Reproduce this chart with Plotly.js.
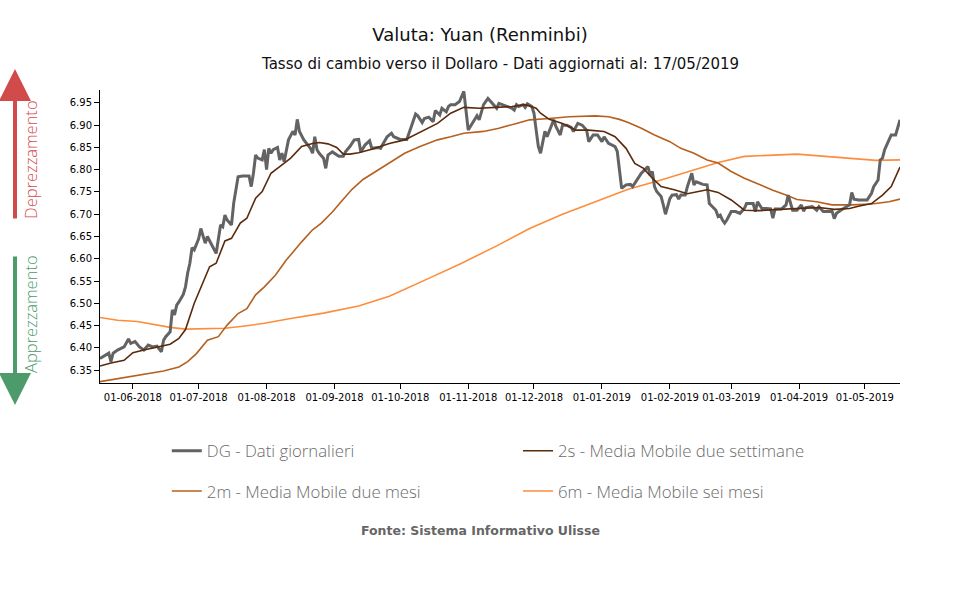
<!DOCTYPE html>
<html>
<head>
<meta charset="utf-8">
<script src="https://cdn.plot.ly/plotly-3.0.1.min.js"></script>
<style>html,body{margin:0;padding:0;background:#fff;}#chart{width:960px;height:600px;}</style>
</head>
<body>
<div id="chart"></div>
<script>
// Daily data (DG)
const dgDates = ["2018-05-17","2018-05-21","2018-05-22","2018-05-23","2018-05-25","2018-05-28","2018-05-30","2018-05-31","2018-06-02","2018-06-04","2018-06-06","2018-06-08","2018-06-10","2018-06-12","2018-06-14","2018-06-15","2018-06-16","2018-06-18","2018-06-19","2018-06-20","2018-06-21","2018-06-22","2018-06-24","2018-06-25","2018-06-26","2018-06-27","2018-06-28","2018-06-29","2018-07-01","2018-07-02","2018-07-04","2018-07-05","2018-07-07","2018-07-09","2018-07-11","2018-07-12","2018-07-13","2018-07-14","2018-07-16","2018-07-17","2018-07-19","2018-07-21","2018-07-24","2018-07-25","2018-07-26","2018-07-27","2018-07-28","2018-07-30","2018-07-31","2018-08-01","2018-08-02","2018-08-03","2018-08-04","2018-08-06","2018-08-07","2018-08-08","2018-08-09","2018-08-10","2018-08-11","2018-08-13","2018-08-14","2018-08-15","2018-08-16","2018-08-18","2018-08-21","2018-08-22","2018-08-23","2018-08-24","2018-08-25","2018-08-27","2018-08-28","2018-08-29","2018-08-31","2018-09-03","2018-09-05","2018-09-06","2018-09-08","2018-09-10","2018-09-12","2018-09-13","2018-09-15","2018-09-17","2018-09-18","2018-09-21","2018-09-22","2018-09-25","2018-09-27","2018-09-28","2018-10-01","2018-10-04","2018-10-06","2018-10-08","2018-10-09","2018-10-11","2018-10-12","2018-10-14","2018-10-16","2018-10-17","2018-10-19","2018-10-20","2018-10-22","2018-10-23","2018-10-24","2018-10-26","2018-10-28","2018-10-30","2018-11-01","2018-11-03","2018-11-05","2018-11-06","2018-11-08","2018-11-10","2018-11-12","2018-11-14","2018-11-15","2018-11-18","2018-11-21","2018-11-22","2018-11-23","2018-11-24","2018-11-26","2018-11-27","2018-11-28","2018-11-30","2018-12-01","2018-12-02","2018-12-03","2018-12-04","2018-12-06","2018-12-07","2018-12-10","2018-12-11","2018-12-13","2018-12-14","2018-12-16","2018-12-18","2018-12-19","2018-12-21","2018-12-23","2018-12-25","2018-12-26","2018-12-28","2018-12-30","2019-01-01","2019-01-02","2019-01-04","2019-01-07","2019-01-08","2019-01-10","2019-01-12","2019-01-14","2019-01-15","2019-01-17","2019-01-19","2019-01-22","2019-01-23","2019-01-24","2019-01-25","2019-01-26","2019-01-28","2019-01-29","2019-01-30","2019-02-01","2019-02-02","2019-02-04","2019-02-05","2019-02-06","2019-02-08","2019-02-09","2019-02-11","2019-02-12","2019-02-13","2019-02-14","2019-02-16","2019-02-18","2019-02-19","2019-02-20","2019-02-22","2019-02-23","2019-02-24","2019-02-25","2019-02-26","2019-02-27","2019-02-28","2019-03-01","2019-03-03","2019-03-05","2019-03-07","2019-03-08","2019-03-11","2019-03-12","2019-03-13","2019-03-15","2019-03-17","2019-03-19","2019-03-20","2019-03-21","2019-03-24","2019-03-26","2019-03-27","2019-03-29","2019-03-31","2019-04-02","2019-04-03","2019-04-04","2019-04-07","2019-04-09","2019-04-10","2019-04-12","2019-04-15","2019-04-16","2019-04-17","2019-04-18","2019-04-20","2019-04-22","2019-04-24","2019-04-25","2019-04-26","2019-04-28","2019-05-02","2019-05-04","2019-05-05","2019-05-07","2019-05-08","2019-05-09","2019-05-10","2019-05-12","2019-05-13","2019-05-15","2019-05-17"];
const dgValues = [6.376,6.388,6.369,6.388,6.395,6.402,6.420,6.410,6.414,6.402,6.395,6.406,6.402,6.404,6.391,6.417,6.425,6.436,6.485,6.474,6.496,6.503,6.520,6.537,6.568,6.590,6.625,6.620,6.645,6.668,6.635,6.650,6.631,6.612,6.676,6.672,6.698,6.687,6.676,6.725,6.784,6.786,6.786,6.762,6.792,6.833,6.826,6.822,6.845,6.800,6.848,6.837,6.845,6.850,6.822,6.837,6.818,6.840,6.867,6.886,6.878,6.913,6.886,6.867,6.848,6.837,6.874,6.845,6.837,6.826,6.803,6.833,6.840,6.830,6.830,6.840,6.852,6.867,6.868,6.840,6.856,6.865,6.848,6.850,6.848,6.874,6.882,6.874,6.868,6.868,6.897,6.925,6.921,6.906,6.915,6.918,6.908,6.933,6.923,6.938,6.930,6.942,6.946,6.946,6.953,6.976,6.889,6.904,6.921,6.912,6.946,6.960,6.949,6.938,6.949,6.943,6.938,6.934,6.946,6.942,6.946,6.940,6.948,6.942,6.927,6.889,6.852,6.837,6.886,6.874,6.912,6.897,6.878,6.900,6.900,6.895,6.886,6.904,6.900,6.889,6.863,6.878,6.878,6.863,6.874,6.859,6.852,6.841,6.758,6.766,6.767,6.762,6.777,6.792,6.807,6.788,6.796,6.762,6.751,6.740,6.721,6.700,6.735,6.743,6.744,6.734,6.743,6.743,6.762,6.792,6.766,6.773,6.771,6.767,6.766,6.724,6.719,6.709,6.695,6.698,6.687,6.680,6.687,6.695,6.706,6.706,6.702,6.713,6.724,6.724,6.706,6.728,6.713,6.713,6.712,6.691,6.712,6.712,6.721,6.743,6.709,6.709,6.721,6.707,6.715,6.717,6.709,6.717,6.706,6.706,6.707,6.690,6.702,6.709,6.715,6.721,6.749,6.734,6.732,6.732,6.747,6.762,6.777,6.822,6.826,6.845,6.867,6.878,6.878,6.912];

// 2 weeks moving average (2s)
const s2Dates = ["2018-05-17","2018-05-22","2018-05-28","2018-06-01","2018-06-06","2018-06-12","2018-06-18","2018-06-22","2018-06-25","2018-06-29","2018-07-02","2018-07-06","2018-07-09","2018-07-13","2018-07-16","2018-07-20","2018-07-23","2018-07-27","2018-07-30","2018-08-03","2018-08-07","2018-08-12","2018-08-17","2018-08-22","2018-08-25","2018-08-29","2018-09-02","2018-09-05","2018-09-08","2018-09-12","2018-09-18","2018-09-26","2018-10-03","2018-10-12","2018-10-18","2018-10-24","2018-10-30","2018-11-06","2018-11-13","2018-11-21","2018-11-27","2018-12-02","2018-12-04","2018-12-08","2018-12-14","2018-12-20","2018-12-26","2019-01-02","2019-01-07","2019-01-12","2019-01-16","2019-01-20","2019-01-24","2019-01-28","2019-02-03","2019-02-09","2019-02-14","2019-02-18","2019-02-23","2019-03-01","2019-03-07","2019-03-14","2019-03-23","2019-03-31","2019-04-10","2019-04-17","2019-04-24","2019-04-28","2019-05-04","2019-05-09","2019-05-13","2019-05-17"];
const s2Values = [6.359,6.366,6.372,6.389,6.395,6.402,6.408,6.421,6.441,6.500,6.537,6.582,6.590,6.640,6.646,6.680,6.691,6.736,6.751,6.792,6.807,6.826,6.852,6.859,6.861,6.858,6.850,6.835,6.835,6.838,6.846,6.859,6.867,6.889,6.904,6.927,6.940,6.938,6.940,6.942,6.946,6.938,6.927,6.913,6.904,6.889,6.889,6.886,6.874,6.848,6.814,6.803,6.781,6.762,6.755,6.746,6.751,6.755,6.749,6.732,6.709,6.708,6.711,6.713,6.715,6.711,6.713,6.718,6.724,6.743,6.762,6.806];

// 2 months moving average (2m)
const m2Dates = ["2018-05-17","2018-05-25","2018-05-31","2018-06-08","2018-06-15","2018-06-22","2018-06-26","2018-06-30","2018-07-05","2018-07-10","2018-07-14","2018-07-19","2018-07-23","2018-07-27","2018-07-31","2018-08-05","2018-08-10","2018-08-17","2018-08-22","2018-08-26","2018-08-31","2018-09-04","2018-09-09","2018-09-14","2018-09-20","2018-09-26","2018-10-03","2018-10-10","2018-10-18","2018-10-24","2018-10-30","2018-11-08","2018-11-15","2018-11-23","2018-11-29","2018-12-08","2018-12-17","2018-12-29","2019-01-04","2019-01-09","2019-01-13","2019-01-19","2019-01-25","2019-02-01","2019-02-06","2019-02-12","2019-02-18","2019-02-23","2019-03-01","2019-03-07","2019-03-14","2019-03-20","2019-03-26","2019-03-31","2019-04-09","2019-04-16","2019-04-25","2019-05-04","2019-05-12","2019-05-17"];
const m2Values = [6.324,6.331,6.335,6.342,6.348,6.357,6.369,6.387,6.417,6.425,6.451,6.477,6.488,6.519,6.537,6.563,6.597,6.638,6.665,6.680,6.705,6.728,6.756,6.778,6.797,6.815,6.837,6.852,6.867,6.874,6.882,6.886,6.893,6.904,6.912,6.915,6.919,6.921,6.919,6.913,6.906,6.893,6.878,6.863,6.848,6.837,6.822,6.815,6.796,6.781,6.766,6.754,6.743,6.733,6.728,6.721,6.721,6.723,6.728,6.734];

// 6 months moving average (6m)
const m6Dates = ["2018-05-17","2018-05-25","2018-06-03","2018-06-12","2018-06-18","2018-06-25","2018-07-04","2018-07-13","2018-07-22","2018-07-31","2018-08-12","2018-08-27","2018-09-12","2018-09-26","2018-10-14","2018-10-29","2018-11-14","2018-11-29","2018-12-14","2018-12-29","2019-01-13","2019-01-28","2019-02-12","2019-02-23","2019-03-07","2019-03-20","2019-03-31","2019-04-13","2019-04-25","2019-05-06","2019-05-17"];
const m6Values = [6.468,6.462,6.459,6.451,6.446,6.442,6.443,6.444,6.449,6.455,6.466,6.478,6.494,6.516,6.556,6.590,6.629,6.668,6.700,6.728,6.756,6.777,6.800,6.816,6.830,6.833,6.835,6.830,6.826,6.821,6.822];

const seriesNames = ["DG - Dati giornalieri","2s - Media Mobile due settimane","2m - Media Mobile due mesi","6m - Media Mobile sei mesi"];
const yTicks = [6.35,6.40,6.45,6.50,6.55,6.60,6.65,6.70,6.75,6.80,6.85,6.90,6.95];
const xTicks = ["2018-06-01","2018-07-01","2018-08-01","2018-09-01","2018-10-01","2018-11-01","2018-12-01","2019-01-01","2019-02-01","2019-03-01","2019-04-01","2019-05-01"];

const traces = [
  {x: m6Dates, y: m6Values, name: seriesNames[3], type: 'scatter', mode: 'lines', line: {color: '#fd8d3c', width: 1.6}, legend: 'legend4'},
  {x: m2Dates, y: m2Values, name: seriesNames[2], type: 'scatter', mode: 'lines', line: {color: '#b5601f', width: 1.6}, legend: 'legend3'},
  {x: dgDates, y: dgValues, name: seriesNames[0], type: 'scatter', mode: 'lines', line: {color: '#636363', width: 3}, legend: 'legend'},
  {x: s2Dates, y: s2Values, name: seriesNames[1], type: 'scatter', mode: 'lines', line: {color: '#5a2a0b', width: 1.6}, legend: 'legend2'}
];

const legendFont = {family: 'Open Sans, sans-serif', size: 16.8, color: '#6b6b6b', weight: 300};
function mkLegend(x, y) {
  return {orientation: 'v', x: x, y: y, xanchor: 'left', yanchor: 'top', font: legendFont, bgcolor: 'rgba(0,0,0,0)', borderwidth: 0};
}
const col1 = 0.0835, col2 = 0.5225, row1 = -0.172, row2 = -0.309;

const layout = {
  width: 960, height: 600,
  paper_bgcolor: '#fff', plot_bgcolor: '#fff',
  margin: {l: 100, r: 60, t: 90, b: 217},
  showlegend: true,
  font: {family: 'DejaVu Sans, sans-serif', color: '#000'},
  title: {text: 'Valuta: Yuan (Renminbi)', x: 0.5, xanchor: 'center', y: 0.943, yanchor: 'middle', font: {family: 'DejaVu Sans, sans-serif', size: 18, color: '#111'}},
  xaxis: {
    type: 'date', range: ['2018-05-17', '2019-05-17'],
    tickvals: xTicks, tickformat: '%d-%m-%Y',
    showgrid: false, zeroline: false,
    showline: true, linecolor: '#000', linewidth: 1,
    ticks: 'outside', ticklen: 5, tickcolor: '#000',
    tickfont: {family: 'DejaVu Sans, sans-serif', size: 10, color: '#000'}
  },
  yaxis: {
    range: [6.321, 6.979],
    tickvals: yTicks, tickformat: '.2f',
    showgrid: false, zeroline: false,
    showline: true, linecolor: '#000', linewidth: 1,
    ticks: 'outside', ticklen: 5, tickcolor: '#000',
    tickfont: {family: 'DejaVu Sans, sans-serif', size: 10, color: '#000'}
  },
  legend: mkLegend(col1, row1),
  legend2: mkLegend(col2, row1),
  legend3: mkLegend(col1, row2),
  legend4: mkLegend(col2, row2),
  annotations: [
    {text: 'Tasso di cambio verso il Dollaro - Dati aggiornati al: 17/05/2019', xref: 'paper', yref: 'paper', x: 0.5, y: 1.0 + (90 - 64) / 293, xanchor: 'center', yanchor: 'middle', showarrow: false, font: {family: 'DejaVu Sans, sans-serif', size: 15, color: '#111'}},
    {text: '<b>Fonte: Sistema Informativo Ulisse</b>', xref: 'paper', yref: 'paper', x: 0.475, y: (383 - 530) / 293, xanchor: 'center', yanchor: 'middle', showarrow: false, font: {family: 'DejaVu Sans, sans-serif', size: 12.5, color: '#666'}},
    {text: 'Deprezzamento', xref: 'paper', yref: 'paper', x: (30 - 100) / 800, y: (383 - 160) / 293, xanchor: 'center', yanchor: 'middle', textangle: -90, showarrow: false, font: {family: 'Open Sans, sans-serif', size: 16.5, color: '#d24b4b', weight: 300}},
    {text: 'Apprezzamento', xref: 'paper', yref: 'paper', x: (30 - 100) / 800, y: (383 - 314) / 293, xanchor: 'center', yanchor: 'middle', textangle: -90, showarrow: false, font: {family: 'Open Sans, sans-serif', size: 16.5, color: '#4d9a6b', weight: 300}},
    {text: '', xref: 'paper', yref: 'paper', x: (15 - 100) / 800, y: (383 - 69) / 293, showarrow: true, axref: 'pixel', ayref: 'pixel', ax: 0, ay: 151, arrowhead: 2, arrowsize: 1.6, arrowwidth: 4, arrowcolor: '#d24b4b'},
    {text: '', xref: 'paper', yref: 'paper', x: (15 - 100) / 800, y: (383 - 405) / 293, showarrow: true, axref: 'pixel', ayref: 'pixel', ax: 0, ay: -150, arrowhead: 2, arrowsize: 1.6, arrowwidth: 4, arrowcolor: '#4d9a6b'}
  ]
};

Plotly.newPlot('chart', traces, layout, {displayModeBar: false, staticPlot: true});
</script>
</body>
</html>
